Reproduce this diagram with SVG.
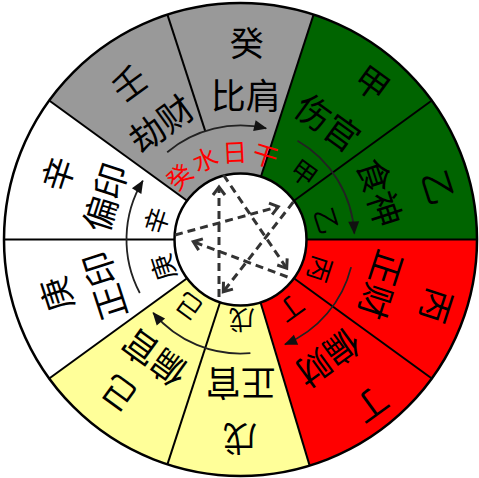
<svg xmlns="http://www.w3.org/2000/svg" width="479" height="478" viewBox="0 0 479 478">
<defs>
<style>
.t{font-family:"Noto Sans CJK SC","Noto Sans CJK JP",sans-serif;fill:#000;text-anchor:middle;dominant-baseline:central}
.o{font-size:34px}
.m{font-size:35px}
.i{font-size:26px}
.div{stroke:#000;stroke-width:2;fill:none}
.arc{stroke:#222;stroke-width:1.8;fill:none;marker-end:url(#ah)}
.star{stroke:#333;stroke-width:3;fill:none;stroke-dasharray:8 5;marker-end:url(#chev)}
</style>
<marker id="ah" markerUnits="userSpaceOnUse" viewBox="-14 -7 16 14" markerWidth="16" markerHeight="14" refX="0" refY="0" orient="auto" overflow="visible"><path d="M1,0 L-12,-5.5 L-12,5.5 Z" fill="#111"/></marker>
<marker id="chev" markerUnits="userSpaceOnUse" viewBox="-12 -9 14 18" markerWidth="14" markerHeight="18" refX="0" refY="0" orient="auto" overflow="visible"><path d="M-8,-6 L0,0 L-8,6" fill="none" stroke="#333" stroke-width="3"/></marker>
<path id="redpath" d="M162.6,243.6 A78,78 0 0 1 312.3,209"/>
</defs>

<g id="sectors">
<path id="green" d="M240.5,239.5 L313.58,14.58 A236.5,236.5 0 0 1 477,239.5 Z" fill="#006400"/>
<path id="red" d="M240.5,239.5 L477,239.5 A236.5,236.5 0 0 1 309.65,465.66 Z" fill="#ff0000"/>
<path id="yellow" d="M240.5,239.5 L309.65,465.66 A236.5,236.5 0 0 1 49.17,378.51 Z" fill="#ffff99"/>
<path id="white" d="M240.5,239.5 L49.17,378.51 A236.5,236.5 0 0 1 49.17,100.49 Z" fill="#ffffff"/>
<path id="gray" d="M240.5,239.5 L49.17,100.49 A236.5,236.5 0 0 1 313.58,14.58 Z" fill="#999999"/>
</g>

<g id="connectors">
<path class="div" d="M306.5,239.5 L477,239.5"/>
<path class="div" d="M293.9,278.29 L431.83,378.51"/>
<path class="div" d="M260.5,302.3 L309.65,465.66"/>
<path class="div" d="M220.11,302.27 L167.42,464.42"/>
<path class="div" d="M187.1,278.29 L49.17,378.51"/>
<path class="div" d="M174.5,239.5 L4,239.5"/>
<path class="div" d="M187.1,200.71 L49.17,100.49"/>
<path class="div" d="M205.27,131.08 L167.42,14.58"/>
<path class="div" d="M260.89,176.73 L313.58,14.58"/>
<path class="div" d="M293.9,200.71 L431.83,100.49"/>

<path class="arc" d="M167.2,152.2 A114,114 0 0 1 266.1,128.4"/>
<path class="arc" d="M297.5,140.8 A114,114 0 0 1 354.3,233.5"/>
<path class="arc" d="M351.1,267.1 A114,114 0 0 1 285,344.4"/>
<path class="arc" d="M250.4,353.1 A114,114 0 0 1 153.2,312.8"/>
<path class="arc" d="M139.8,293 A114,114 0 0 1 142.8,180.8"/>
</g>

<g id="node-gui">
<text class="t o" transform="translate(246.7,41.7)">癸</text>
<text class="t m" transform="translate(245.8,93.3)">比肩</text>
</g>
<g id="node-ren">
<text class="t o" transform="translate(128.3,81.7) rotate(-36)">壬</text>
<text class="t m" transform="translate(160,122) rotate(-36)">劫财</text>
</g>
<g id="node-xin">
<text class="t o" transform="translate(56.7,173.3) rotate(-72)">辛</text>
<text class="t m" transform="translate(103.3,196.7) rotate(-72)">偏印</text>
<text class="t i" transform="translate(155,220) rotate(-72)">辛</text>
</g>
<g id="node-geng">
<text class="t o" transform="translate(55,294.7) rotate(-108)">庚</text>
<text class="t m" transform="translate(102.5,286.3) rotate(-108)">正印</text>
<text class="t i" transform="translate(161.7,268) rotate(-108)">庚</text>
</g>
<g id="node-ji">
<text class="t o" transform="translate(118.3,394.7) rotate(-144)">己</text>
<text class="t m" transform="translate(153.3,359.7) rotate(-144)">偏官</text>
<text class="t i" transform="translate(188.3,308) rotate(-144)">己</text>
</g>
<g id="node-wu">
<text class="t o" transform="translate(240,440) rotate(180)">戊</text>
<text class="t m" transform="translate(240.8,385) rotate(180)">正官</text>
<text class="t i" transform="translate(241.7,321.7) rotate(180)">戊</text>
</g>
<g id="node-ding">
<text class="t o" transform="translate(371.7,406.3) rotate(144)">丁</text>
<text class="t m" transform="translate(329.2,359.7) rotate(144)">偏财</text>
<text class="t i" transform="translate(291.7,309.7) rotate(144)">丁</text>
</g>
<g id="node-bing">
<text class="t o" transform="translate(438.3,306.3) rotate(108)">丙</text>
<text class="t m" transform="translate(383.3,285.5) rotate(108)">正财</text>
<text class="t i" transform="translate(321.7,269.7) rotate(108)">丙</text>
</g>
<g id="node-yi">
<text class="t o" transform="translate(440,186.7) rotate(72)">乙</text>
<text class="t m" transform="translate(381.7,191.7) rotate(72)">食神</text>
<text class="t i" transform="translate(328.3,220) rotate(72)">乙</text>
</g>
<g id="node-jia">
<text class="t o" transform="translate(373.3,81.7) rotate(36)">甲</text>
<text class="t m" transform="translate(329.2,120.8) rotate(36)">伤官</text>
<text class="t i" transform="translate(305,171.7) rotate(36)">甲</text>
</g>
<g id="node-daymaster">
<text font-family="Noto Sans CJK SC, sans-serif" font-size="25" fill="#ff0000" letter-spacing="2.5"><textPath href="#redpath" startOffset="50%" text-anchor="middle">癸水日干</textPath></text>
</g>

<g id="center">
<circle cx="240.5" cy="239.5" r="66" fill="#ffffff" stroke="#000" stroke-width="2.5"/>
</g>
<g id="star-connectors">
<path class="star" d="M219,297 L219,187"/>
<path class="star" d="M223.5,175 L286.7,268.3"/>
<path class="star" d="M175,235 L278.3,206.7"/>
<path class="star" d="M287.5,277 L193.3,241.7"/>
<path class="star" d="M293.3,202 L223.3,291.7"/>
</g>
<circle id="rim" cx="240.5" cy="239.5" r="236.5" fill="none" stroke="#000" stroke-width="2.5"/>
</svg>
